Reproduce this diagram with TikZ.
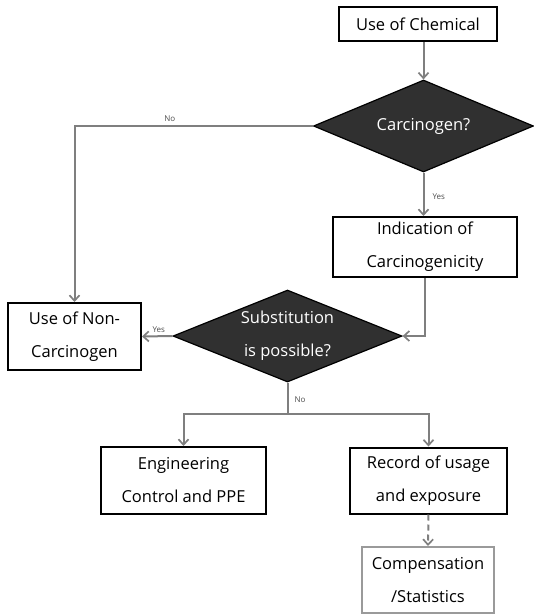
\documentclass[tikz,border=0pt]{standalone}
\usepackage{fontspec}
\setmainfont{Open Sans}
\usetikzlibrary{shapes.geometric,arrows.meta}
\definecolor{linegray}{HTML}{7F7F7F}
\definecolor{darkfill}{HTML}{303030}
\definecolor{boxgray}{HTML}{9A9A9A}
\tikzset{
  boxnode/.style={draw=black,line width=2pt,fill=white,align=center,inner sep=0pt,
    font=\fontsize{16.5}{33}\selectfont},
  graybox/.style={boxnode,draw=boxgray},
  decision/.style={shape=diamond,draw=black,line width=1.2pt,fill=darkfill,inner sep=0pt},
  dtext/.style={text=white,align=center,font=\fontsize{16.5}{33}\selectfont},
  conn/.style={draw=linegray,line width=2pt,-{Straight Barb[length=5.5pt,width=10pt,line width=1.7pt]}},
  plainconn/.style={draw=linegray,line width=2pt},
  small/.style={font=\fontsize{8}{9}\selectfont,text=black!70,inner sep=0pt}
}
\begin{document}
\begin{tikzpicture}[x=1pt,y=-1pt]
\useasboundingbox (0,0) rectangle (534,614);
\node[boxnode,minimum width=158pt,minimum height=34pt] (chem) at (418,24) {Use of Chemical};
\node[decision,minimum width=220pt,minimum height=92pt] (carc) at (423.5,126) {};
\node[dtext] (carctext) at (carc.center) {Carcinogen?};
\node[boxnode,minimum width=184pt,minimum height=60pt] (ind) at (425,247) {Indication of\\Carcinogenicity};
\node[boxnode,minimum width=133pt,minimum height=67pt] (non) at (74.5,336.5) {Use of Non-\\Carcinogen};
\node[decision,minimum width=229pt,minimum height=92pt] (sub) at (287.5,336) {};
\node[dtext] (subtext) at (sub.center) {Substitution\\is possible?};
\node[boxnode,minimum width=165pt,minimum height=67pt] (eng) at (183.5,480.5) {Engineering\\Control and PPE};
\node[boxnode,minimum width=157pt,minimum height=66pt] (rec) at (428.5,480.5) {Record of usage\\and exposure};
\node[graybox,minimum width=132pt,minimum height=66pt] (comp) at (428,580) {Compensation\\/Statistics};
\coordinate (split) at (287.5,414);
% connectors
\draw[conn] (chem.south -| carc.north) -- (carc.north);
\draw[conn] (carc.south) -- (carc.south |- ind.north) node[small,pos=0.55,right=8pt] (yes1) {Yes};
\draw[conn] (ind.south) |- (sub.east);
\draw[conn] (carc.west) -| (non.north) node[small,pos=0.3,above=3pt] (no1) {No};
\draw[conn] (sub.west) -- (non.east) node[small,pos=0.45,above=3pt] (yes2) {Yes};
\draw[plainconn] (sub.south) -- (split) node[small,pos=0.55,right=6pt] (no2) {No};
\draw[conn] (split) -| (eng.north);
\draw[conn] (split) -| (rec.north);
\draw[conn,dashed,dash pattern=on 6pt off 4pt] (rec.south) -- (comp.north);
\end{tikzpicture}
\end{document}
